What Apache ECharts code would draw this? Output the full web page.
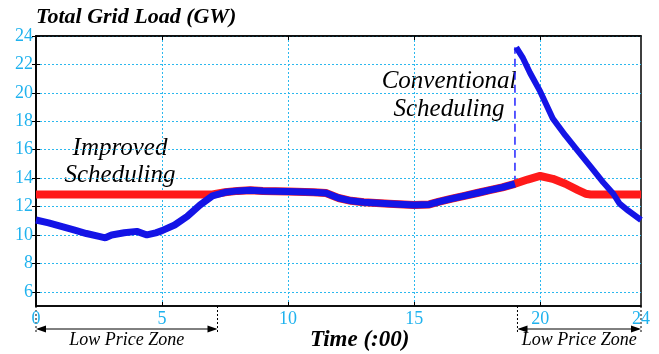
<!DOCTYPE html>
<html>
<head>
<meta charset="utf-8">
<script src="https://cdn.jsdelivr.net/npm/echarts@6/dist/echarts.min.js"></script>
<style>
  html, body { margin: 0; background: #fff; }
  #chart { width: 659px; height: 354px; }
</style>
</head>
<body>
<div id="chart"></div>
<script>
// conventional scheduling (blue), before the evening charging jump
const convHours = [0, 0.5, 1, 1.5, 2, 2.5, 2.75, 3, 3.5, 4, 4.4, 4.75, 5, 5.5, 6, 6.5, 7, 7.5, 8, 8.5, 9, 10, 11, 11.5, 12, 12.5, 13, 14, 15, 15.6, 16, 16.5, 17, 17.5, 18, 18.5, 19];
const convLoad = [11.05, 10.85, 10.6, 10.35, 10.1, 9.9, 9.8, 10.0, 10.15, 10.25, 10.0, 10.15, 10.3, 10.7, 11.3, 12.1, 12.75, 13.0, 13.1, 13.15, 13.1, 13.05, 13.0, 12.95, 12.6, 12.4, 12.3, 12.2, 12.1, 12.15, 12.35, 12.55, 12.75, 12.95, 13.15, 13.35, 13.6];
// conventional scheduling after the jump
const peakHours = [19.05, 19.3, 19.6, 20, 20.5, 21, 21.5, 22, 22.5, 22.9, 23.15, 23.5, 24];
const peakLoad = [23.2, 22.5, 21.4, 20.1, 18.2, 17.0, 15.9, 14.8, 13.7, 12.9, 12.2, 11.7, 11.05];
// improved scheduling (red)
const impHours = [0, 7, 7.5, 8, 8.5, 9, 10, 11, 11.5, 12, 12.5, 13, 14, 15, 15.6, 16, 16.5, 17, 17.5, 18, 18.5, 19, 19.5, 20, 20.5, 21, 21.5, 21.8, 22, 24];
const impLoad = [12.85, 12.85, 13.0, 13.1, 13.15, 13.1, 13.05, 13.0, 12.95, 12.6, 12.4, 12.3, 12.2, 12.1, 12.15, 12.35, 12.55, 12.75, 12.95, 13.15, 13.35, 13.6, 13.9, 14.15, 13.95, 13.6, 13.15, 12.9, 12.85, 12.85];
// low price zones (hours)
const lowZones = [[0, 7.2], [19.1, 24]];
const xTicks = [0, 5, 10, 15, 20, 24];
const yTicks = [6, 8, 10, 12, 14, 16, 18, 20, 22, 24];

const pairs = (xs, ys) => xs.map((x, i) => [x, ys[i]]);

const chart = echarts.init(document.getElementById("chart"));
const serif = "'Liberation Serif', 'DejaVu Serif', serif";
const cyan = "#1fb2ee";
const gridLine = { show: true, lineStyle: { color: "#2bb8ee", type: [2, 2], width: 1 } };
const txt = (text, size, extra) => Object.assign({ text: text, fontFamily: serif, fontSize: size, fontStyle: "italic", fill: "#000" }, extra);

const option = {
  animation: false,
  grid: { left: 36, right: 18, top: 36, bottom: 48, show: true, borderColor: "#000", borderWidth: 1.5 },
  xAxis: [
    {
      type: "value", min: 0, max: 24,
      axisLine: { lineStyle: { color: "#000", width: 1.5 } },
      axisTick: { inside: true, length: 4, customValues: [5, 10, 15, 20], lineStyle: { color: "#000" } },
      axisLabel: { customValues: xTicks, color: cyan, fontFamily: serif, fontSize: 18, margin: 4 },
      splitLine: gridLine,
    },
    {
      type: "value", min: 0, max: 24, position: "top",
      axisLine: { lineStyle: { color: "#000", width: 1.5 } },
      axisTick: { inside: true, length: 4, customValues: [5, 10, 15, 20], lineStyle: { color: "#000" } },
      axisLabel: { show: false },
      splitLine: { show: false },
    },
  ],
  yAxis: [
    {
      type: "value", min: 5, max: 24,
      axisLine: { show: true, lineStyle: { color: "#000", width: 1.5 } },
      axisTick: { show: true, inside: true, length: 4, customValues: yTicks, lineStyle: { color: "#000" } },
      axisLabel: { customValues: yTicks, color: cyan, fontFamily: serif, fontSize: 18, margin: 3 },
      splitLine: gridLine,
    },
    {
      type: "value", min: 5, max: 24, position: "right",
      axisLine: { show: true, lineStyle: { color: "#000", width: 1.5 } },
      axisTick: { show: true, inside: true, length: 4, customValues: yTicks, lineStyle: { color: "#000" } },
      axisLabel: { show: false },
      splitLine: { show: false },
    },
  ],
  series: [
    {
      name: "Improved", type: "line", data: pairs(impHours, impLoad),
      symbol: "none", lineStyle: { color: "#ff1a1a", width: 8 }, z: 2,
    },
    {
      name: "Conventional", type: "line", data: pairs(convHours, convLoad),
      symbol: "none", lineStyle: { color: "#1414e6", width: 7 }, z: 3,
    },
    {
      name: "Conventional peak", type: "line", data: pairs(peakHours, peakLoad),
      symbol: "none", lineStyle: { color: "#1414e6", width: 6 }, z: 3,
    },
    {
      name: "jump", type: "line",
      data: [[convHours[convHours.length - 1], convLoad[convLoad.length - 1]], [convHours[convHours.length - 1], peakLoad[0]]],
      symbol: "none", lineStyle: { color: "#2222ff", width: 1.5, type: [8, 5] }, z: 1,
    },
  ],
  graphic: [
    { type: "text", left: 36, top: 6, style: txt("Total Grid Load (GW)", 22, { fontWeight: "bold" }) },
    { type: "text", left: 310, top: 329, style: txt("Time (:00)", 23, { fontWeight: "bold" }) },
    { type: "text", x: 120, y: 135, style: txt("Improved\nScheduling", 25, { align: "center", lineHeight: 27 }) },
    { type: "text", x: 449, y: 67, style: txt("Conventional\nScheduling", 25, { align: "center", lineHeight: 28 }) },
  ],
};
chart.setOption(option);

// low price zone markers below the axis
const zoneGraphics = [];
lowZones.forEach(([a, b]) => {
  const x1 = chart.convertToPixel({ xAxisIndex: 0 }, a);
  const x2 = chart.convertToPixel({ xAxisIndex: 0 }, b);
  const y0 = chart.convertToPixel({ yAxisIndex: 0 }, 5);
  const ya = y0 + 23;
  [x1, x2].forEach((x) => {
    zoneGraphics.push({ type: "line", shape: { x1: x, y1: y0, x2: x, y2: y0 + 27 }, style: { stroke: "#000", lineWidth: 1, lineDash: [2, 2] } });
  });
  zoneGraphics.push({ type: "line", shape: { x1: x1 + 2, y1: ya, x2: x2 - 2, y2: ya }, style: { stroke: "#000", lineWidth: 1 } });
  zoneGraphics.push({ type: "polygon", shape: { points: [[x1, ya], [x1 + 10, ya - 3.5], [x1 + 10, ya + 3.5]] }, style: { fill: "#000" } });
  zoneGraphics.push({ type: "polygon", shape: { points: [[x2, ya], [x2 - 10, ya - 3.5], [x2 - 10, ya + 3.5]] }, style: { fill: "#000" } });
  zoneGraphics.push({ type: "text", x: (x1 + x2) / 2, y: ya + 2, style: txt("Low Price Zone", 18, { align: "center" }) });
});
chart.setOption({ graphic: option.graphic.concat(zoneGraphics) });
</script>
</body>
</html>
